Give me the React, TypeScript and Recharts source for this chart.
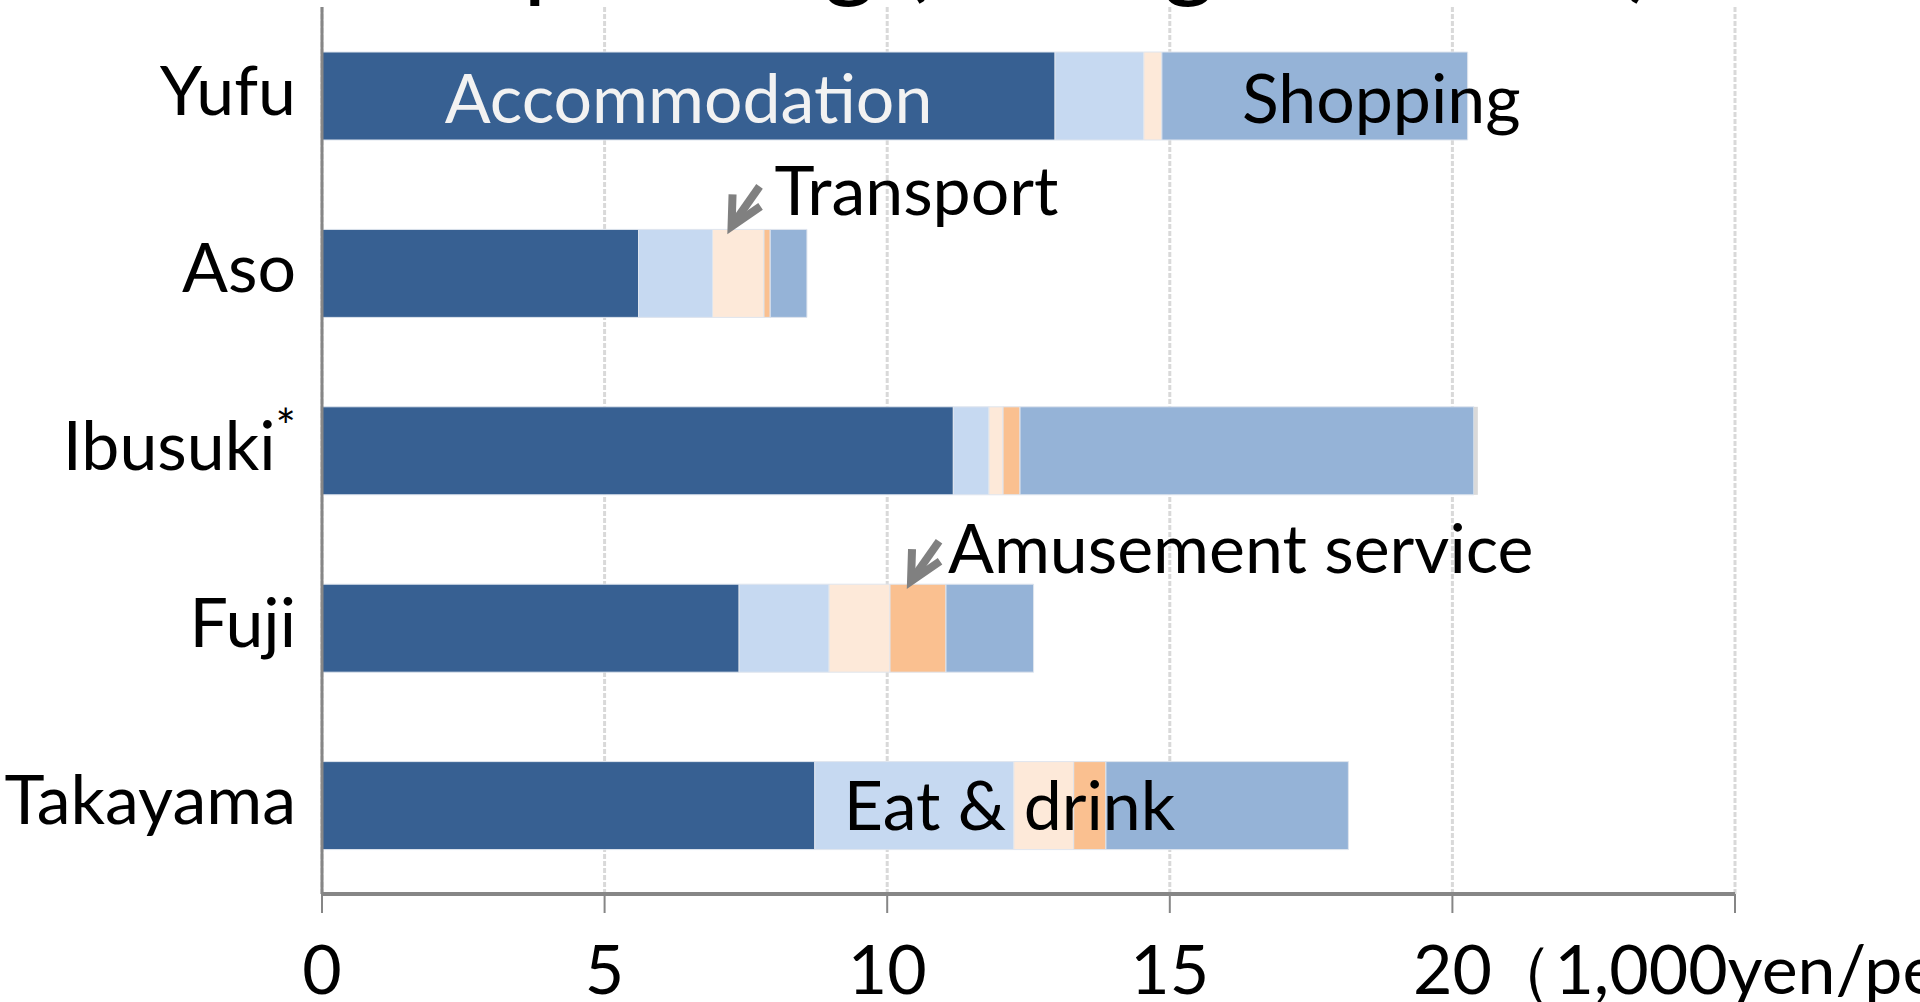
import React from 'react';
import { BarChart, Bar, XAxis, YAxis, CartesianGrid, LabelList } from 'recharts';

// spending per person, 1,000 yen
const areas = ['Yufu', 'Aso', 'Ibusuki', 'Fuji', 'Takayama'];
const accommodation = [12.97, 5.6, 11.17, 7.38, 8.72];
const eatDrink = [1.57, 1.31, 0.63, 1.59, 3.52];
const transport = [0.32, 0.91, 0.25, 1.08, 1.06];
const amusement = [0, 0.11, 0.3, 0.99, 0.57];
const shopping = [5.41, 0.65, 8.03, 1.55, 4.29];
const other = [0, 0, 0.07, 0, 0];
const xTicks = [0, 5, 10, 15, 20, 25];
const xTickLabels = ['0', '5', '10', '15', '20', ''];

const title = 'Tourist spending (average amount)';
const unitLabel = '（1,000yen/person）';

const FONT = 'Lato, "Noto Sans", sans-serif';
const FS = 68;

const data = areas.map((name, i) => ({
  name,
  accommodation: accommodation[i],
  eatDrink: eatDrink[i],
  transport: transport[i],
  amusement: amusement[i],
  shopping: shopping[i],
  other: other[i],
}));

const YTick = (props: any) => {
  const { x, y, payload } = props;
  const star = payload.value === 'Ibusuki';
  return (
    <text x={x - 26} y={y + 19} textAnchor="end" fontSize={FS} fontFamily={FONT} fill="#000">
      {payload.value}
      {star && (
        <tspan fontSize={48} dy={-26}>
          *
        </tspan>
      )}
    </text>
  );
};

const XTick = (props: any) => {
  const { x, y, payload, index } = props;
  return (
    <g>
      <text x={x} y={y + 79} textAnchor="middle" fontSize={FS} fontFamily={FONT} fill="#000">
        {xTickLabels[index]}
      </text>
      {payload.value === 20 && (
        <text x={x + 34} y={y + 79} textAnchor="start" fontSize={FS} fontFamily={FONT} fill="#000">
          {unitLabel}
        </text>
      )}
    </g>
  );
};

// text inside a segment, only for one area (LabelList value = area name)
const inside = (area: string, text: string, color: string, dx: number | 'center', dy: number) => (p: any) => {
  if (p.value !== area) return null;
  const tx = dx === 'center' ? p.x + p.width / 2 : p.x + dx;
  return (
    <text
      x={tx}
      y={p.y + p.height / 2 + dy}
      textAnchor={dx === 'center' ? 'middle' : 'start'}
      fontSize={FS}
      fontFamily={FONT}
      fill={color}
    >
      {text}
    </text>
  );
};

// callout above a segment, with a grey arrow
const callout = (area: string, text: string, tipDx: number, textDx: number, textDy: number) => (p: any) => {
  if (p.value !== area) return null;
  const tx = p.x + tipDx;
  const ty = p.y - 3;
  return (
    <g>
      <g stroke="#808080" strokeWidth={8} fill="none" strokeLinejoin="miter">
        <line x1={tx + 2} y1={ty - 3} x2={tx + 28} y2={ty - 40} />
        <polyline points={`${tx + 1},${ty - 32} ${tx},${ty} ${tx + 29},${ty - 20}`} />
      </g>
      <text x={p.x + textDx} y={p.y + textDy} fontSize={FS} fontFamily={FONT} fill="#000">
        {text}
      </text>
    </g>
  );
};

export default function App() {
  return (
    <div style={{ position: 'absolute', left: 0, top: 0, width: 1920, height: 1002, background: '#fff', overflow: 'hidden' }}>
      <BarChart
        width={1920}
        height={1002}
        data={data}
        layout="vertical"
        barSize={88}
        margin={{ top: 7, right: 185, bottom: 0, left: 22 }}
      >
        <CartesianGrid horizontal={false} stroke="#d9d9d9" strokeWidth={3} strokeDasharray="5 2" />
        <XAxis
          type="number"
          domain={[0, 25]}
          ticks={xTicks}
          height={108}
          axisLine={{ stroke: '#868686', strokeWidth: 4 }}
          tickLine={{ stroke: '#868686', strokeWidth: 2 }}
          tickSize={19}
          tick={<XTick />}
          interval={0}
        />
        <YAxis
          type="category"
          dataKey="name"
          width={300}
          axisLine={{ stroke: '#868686', strokeWidth: 3 }}
          tickLine={false}
          tickSize={0}
          tickMargin={0}
          tick={<YTick />}
          interval={0}
        />
        <Bar dataKey="accommodation" stackId="a" fill="#376092" stroke="#dfe5ee" strokeWidth={1} isAnimationActive={false}>
          <LabelList dataKey="name" content={inside('Yufu', 'Accommodation', '#f2f2f2', 'center', 27)} />
        </Bar>
        <Bar dataKey="eatDrink" stackId="a" fill="#c6d9f1" stroke="#dfe5ee" strokeWidth={1} isAnimationActive={false}>
          <LabelList dataKey="name" content={inside('Takayama', 'Eat & drink', '#000', 29, 24)} />
        </Bar>
        <Bar dataKey="transport" stackId="a" fill="#fde9d9" stroke="#dfe5ee" strokeWidth={1} isAnimationActive={false}>
          <LabelList dataKey="name" content={callout('Aso', 'Transport', 19, 62, -14)} />
        </Bar>
        <Bar dataKey="amusement" stackId="a" fill="#fac090" stroke="#dfe5ee" strokeWidth={1} isAnimationActive={false}>
          <LabelList dataKey="name" content={callout('Fuji', 'Amusement service', 21, 58, -11)} />
        </Bar>
        <Bar dataKey="shopping" stackId="a" fill="#95b3d7" stroke="#dfe5ee" strokeWidth={1} isAnimationActive={false}>
          <LabelList dataKey="name" content={inside('Yufu', 'Shopping', '#000', 80, 27)} />
        </Bar>
        <Bar dataKey="other" stackId="a" fill="#d9d9d9" isAnimationActive={false} />
      </BarChart>
      <svg width={1920} height={40} style={{ position: 'absolute', left: 0, top: 0, pointerEvents: 'none' }}>
        <text x={905} y={-11} textAnchor="middle" fontSize={100} fontFamily={FONT} fill="#000">
          {title}
        </text>
      </svg>
    </div>
  );
}
